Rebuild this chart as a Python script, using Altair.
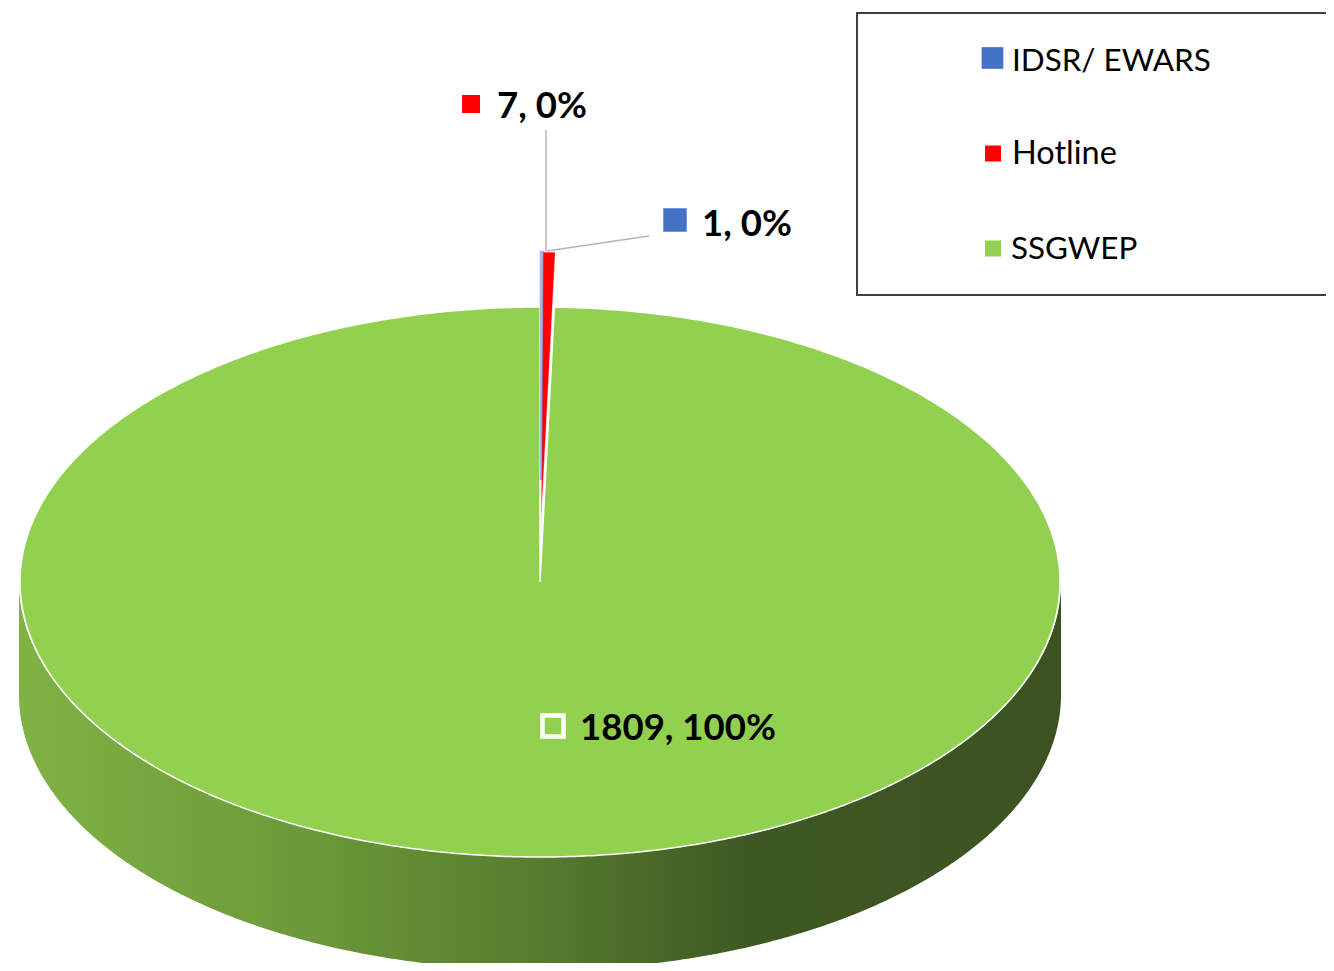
import altair as alt
import numpy as np
import pandas as pd

# ---- chart data ----
categories = ["IDSR/ EWARS", "Hotline", "SSGWEP"]
counts = [1, 7, 1809]
colors = ["#4472C4", "#FF0000", "#92D050"]

# ---- layout of the drawing (image pixels) ----
CX, CY, RX, RY, DEPTH = 540.0, 582.0, 520.0, 275.0, 113.0
EXPLODE_X, EXPLODE_Y = 1.0, -55.0
BLUE_FADE = 47.0  # the thin blue slice fades out before its apex
FONT = "Lato"

total = sum(counts)
cum = np.cumsum([0] + counts) / total * 2 * np.pi


def arc(a0, a1, cx=CX, cy=CY, rx=RX, ry=RY, step=np.radians(0.5)):
    n = max(int(abs(a1 - a0) / step), 2)
    t = np.linspace(a0, a1, n + 1)
    return cx + rx * np.sin(t), cy - ry * np.cos(t)


def wedge(a0, a1, dx=0.0, dy=0.0, ry=RY):
    x, y = arc(a0, a1, cx=CX + dx, cy=CY + dy, ry=ry)
    xs = [CX + dx] + list(x) + [CX + dx]
    ys = [CY + dy] + list(y) + [CY + dy]
    return pd.DataFrame({"x": xs, "y": ys, "o": range(len(xs))})


xs = alt.X("x:Q", axis=None, scale=alt.Scale(domain=[8, 1326], nice=False, zero=False))
ys = alt.Y("y:Q", axis=None, scale=alt.Scale(domain=[963, 8], nice=False, zero=False))


def poly(df, **mark):
    return alt.Chart(df).mark_line(interpolate="linear", clip=True, **mark).encode(
        x=xs, y=ys, order=alt.Order("o:Q", sort="ascending"))


# side wall: lower half of the pie, swept down by the depth
ux, uy = arc(np.pi / 2, 3 * np.pi / 2, rx=RX + 1)
lx, ly = arc(3 * np.pi / 2, np.pi / 2, cy=CY + DEPTH, rx=RX + 1)
wx, wy = list(ux) + list(lx) + [ux[0]], list(uy) + list(ly) + [uy[0]]
wall = poly(
    pd.DataFrame({"x": wx, "y": wy, "o": range(len(wx))}),
    fill=alt.Gradient(
        gradient="linear", x1=0, y1=0, x2=1, y2=0,
        stops=[
            alt.GradientStop(color="#80B244", offset=0),
            alt.GradientStop(color="#6C9A39", offset=0.27),
            alt.GradientStop(color="#567C2E", offset=0.5),
            alt.GradientStop(color="#3E5823", offset=0.7),
            alt.GradientStop(color="#3C5321", offset=1),
        ],
    ),
    strokeWidth=0,
)

# top faces
green_top = poly(wedge(cum[2], cum[3]), fill=colors[2], stroke="white", strokeWidth=1.5)
red_top = poly(wedge(cum[1], cum[2], EXPLODE_X, EXPLODE_Y), fill=colors[1], stroke="white", strokeWidth=0.6)
blue_top = poly(
    wedge(cum[0], cum[1], EXPLODE_X, EXPLODE_Y - BLUE_FADE, ry=RY - BLUE_FADE),
    fill=colors[0], stroke=colors[0], strokeWidth=2.5, opacity=0.5,
)

# leader lines
lead1 = poly(pd.DataFrame({"x": [546, 546], "y": [130, 251], "o": [0, 1]}), stroke="#B4B4B4", strokeWidth=1.5)
lead2 = poly(pd.DataFrame({"x": [547, 649], "y": [251, 236], "o": [0, 1]}), stroke="#B4B4B4", strokeWidth=1.5)

# legend frame, open on the right as in the reference
frame = poly(
    pd.DataFrame({"x": [1331, 857, 857, 1331], "y": [13, 13, 295, 295], "o": range(4)}),
    stroke="#404040", strokeWidth=2,
)


def square(x, y, size, **mark):
    df = pd.DataFrame({"x": [x], "y": [y]})
    return alt.Chart(df).mark_point(shape="square", size=size, opacity=1, **mark).encode(x=xs, y=ys)


def label(x, y, s, size=36.6, weight="bold"):
    df = pd.DataFrame({"x": [x], "y": [y], "t": [s]})
    return alt.Chart(df).mark_text(
        align="left", baseline="alphabetic", font=FONT, fontSize=size, fontWeight=weight, color="black",
    ).encode(x=xs, y=ys, text="t:N")


def data_label(i):
    return f"{counts[i]}, {round(100 * counts[i] / total)}%"


marks = [
    square(471, 104, 324, filled=True, color=colors[1], strokeWidth=0),
    label(497, 118, data_label(1)),
    square(675, 220, 550, filled=True, color=colors[0], strokeWidth=0),
    label(702, 236, data_label(0)),
    square(553, 726, 440, filled=False, color="white", strokeWidth=4.5),
    label(580, 740, data_label(2)),
    square(992.5, 58, 470, filled=True, color=colors[0], strokeWidth=0),
    label(1012, 71, categories[0], size=31.4, weight="normal"),
    square(993, 153.5, 256, filled=True, color=colors[1], strokeWidth=0),
    label(1012, 164, categories[1], size=32.5, weight="normal"),
    square(993, 248.5, 256, filled=True, color=colors[2], strokeWidth=0),
    label(1011, 259, categories[2], size=31.4, weight="normal"),
]

chart = alt.layer(wall, green_top, red_top, blue_top, lead1, lead2, frame, *marks).properties(
    width=1318, height=955, padding=0, autosize=alt.AutoSizeParams(type="none"), background="white",
).configure_view(stroke=None)

chart.save("out.html", embed_options={"renderer": "svg", "actions": False})
